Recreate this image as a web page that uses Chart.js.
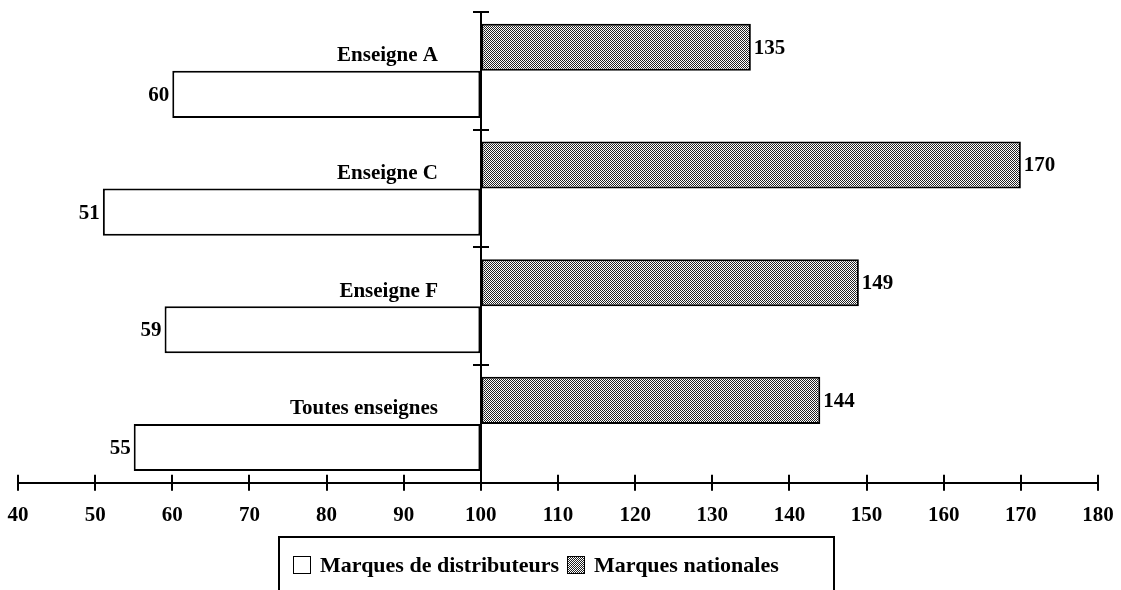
<!DOCTYPE html>
<html>
<head>
<meta charset="utf-8">
<script src="https://cdn.jsdelivr.net/npm/chart.js@4"></script>
<style>
  html, body { margin: 0; padding: 0; background: #fff; }
  #wrap { position: relative; width: 1121px; height: 590px; overflow: hidden; }
  #legend {
    position: absolute; left: 278px; top: 536px; width: 553px; height: 80px;
    border: 2px solid #000; border-bottom: none;
    font: bold 22px "Liberation Serif", "Times New Roman", serif; color: #000;
  }
  #legend .item { position: absolute; top: 14px; display: flex; align-items: center; }
  #legend .box { width: 16px; height: 16px; border: 1.5px solid #000; margin-right: 9px; }
</style>
</head>
<body>
<div id="wrap">
  <canvas id="chart"></canvas>
  <div id="legend">
    <div class="item" style="left:13px"><span class="box" id="swDistrib"></span>Marques de distributeurs</div>
    <div class="item" style="left:287px"><span class="box" id="swNational"></span>Marques nationales</div>
  </div>
</div>
<script>
const categories = ['Enseigne A', 'Enseigne C', 'Enseigne F', 'Toutes enseignes'];
const nationales = [135, 170, 149, 144];
const distributeurs = [60, 51, 59, 55];
const xTicks = [40, 50, 60, 70, 80, 90, 100, 110, 120, 130, 140, 150, 160, 170, 180];
const baseValue = 100;

const FONT = '"Liberation Serif", "Times New Roman", serif';

// fine black/white checker used for the national brands
function makeChecker() {
    const c = document.createElement('canvas');
    c.width = 2; c.height = 2;
    const g = c.getContext('2d');
    g.fillStyle = '#fff';
    g.fillRect(0, 0, 2, 2);
    g.fillStyle = '#222';
    g.fillRect(0, 0, 1, 1);
    g.fillRect(1, 1, 1, 1);
    return c;
}
const checker = makeChecker();
const ctx = document.getElementById('chart').getContext('2d');
const checkerPattern = ctx.createPattern(checker, 'repeat');

document.getElementById('swNational').style.background = 'url(' + checker.toDataURL() + ') repeat';
document.getElementById('swDistrib').style.background = '#fff';

// vertical axis at 100 with its category names, and crossing tick marks on both axes
const centerAxis = {
    id: 'centerAxis',
    afterDatasetsDraw(chart) {
        const {ctx, chartArea, scales: {x, y}} = chart;
        const x0 = Math.round(x.getPixelForValue(baseValue));
        const half = (y.getPixelForValue(1) - y.getPixelForValue(0)) / 2;
        ctx.save();
        ctx.strokeStyle = '#000';
        ctx.lineWidth = 2;
        ctx.beginPath();
        ctx.moveTo(x0, chartArea.top);
        ctx.lineTo(x0, chartArea.bottom);
        xTicks.forEach(v => {
            const px = Math.round(x.getPixelForValue(v));
            ctx.moveTo(px, chartArea.bottom - 8);
            ctx.lineTo(px, chartArea.bottom + 8);
        });
        for (let i = 0; i <= categories.length; i++) {
            const py = Math.round(y.getPixelForValue(i) - half);
            ctx.moveTo(x0 - 8, py);
            ctx.lineTo(x0 + 8, py);
        }
        ctx.stroke();

        ctx.font = 'bold 21px ' + FONT;
        ctx.fillStyle = '#000';
        ctx.textAlign = 'right';
        ctx.textBaseline = 'middle';
        categories.forEach((c, i) => {
            ctx.fillText(c, x0 - 43, y.getPixelForValue(i) - 15);
        });
        ctx.restore();
    }
};

// value written at the free end of each bar
const barValues = {
    id: 'barValues',
    afterDatasetsDraw(chart) {
        const {ctx} = chart;
        ctx.save();
        ctx.font = 'bold 21px ' + FONT;
        ctx.fillStyle = '#000';
        ctx.textBaseline = 'middle';
        chart.data.datasets.forEach((ds, di) => {
            chart.getDatasetMeta(di).data.forEach((bar, i) => {
                const v = ds.data[i];
                if (v >= baseValue) {
                    ctx.textAlign = 'left';
                    ctx.fillText(v, bar.x + 3, bar.y + 1);
                } else {
                    ctx.textAlign = 'right';
                    ctx.fillText(v, bar.x - 3, bar.y + 1);
                }
            });
        });
        ctx.restore();
    }
};

new Chart(ctx, {
    type: 'bar',
    data: {
        labels: categories,
        datasets: [{
            label: 'Marques nationales',
            data: nationales,
            base: baseValue,
            backgroundColor: checkerPattern,
            borderColor: '#000',
            borderWidth: 2,
            borderSkipped: false
        }, {
            label: 'Marques de distributeurs',
            data: distributeurs,
            base: baseValue,
            backgroundColor: '#fff',
            borderColor: '#000',
            borderWidth: 2,
            borderSkipped: false
        }]
    },
    options: {
        indexAxis: 'y',
        responsive: true,
        maintainAspectRatio: false,
        animation: false,
        datasets: {
            bar: { categoryPercentage: 0.8, barPercentage: 1 }
        },
        layout: {
            padding: { left: 18, right: 23, top: 12, bottom: 62 }
        },
        scales: {
            x: {
                type: 'linear',
                min: 40,
                max: 180,
                afterBuildTicks: (scale) => { scale.ticks = xTicks.map(v => ({value: v})); },
                // invisible tick length keeps the labels clear of the axis line
                grid: { drawOnChartArea: false, drawTicks: true, tickLength: 20, tickColor: 'rgba(0,0,0,0)' },
                border: { display: true, color: '#000', width: 2 },
                ticks: {
                    padding: 0,
                    color: '#000',
                    font: { family: FONT, size: 21, weight: 'bold' }
                }
            },
            y: {
                display: false,
                offset: true
            }
        },
        plugins: {
            legend: { display: false },
            tooltip: { enabled: false }
        }
    },
    plugins: [centerAxis, barValues]
});
</script>
</body>
</html>
